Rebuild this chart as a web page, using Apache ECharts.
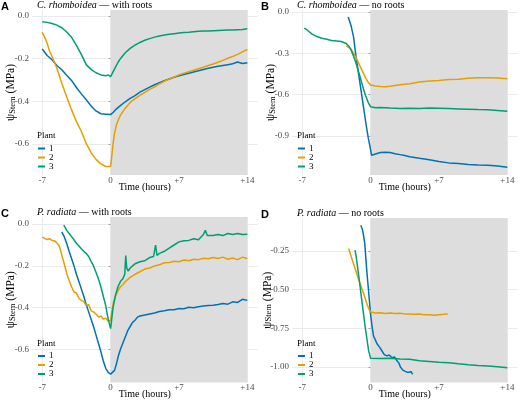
<!DOCTYPE html>
<html>
<head>
<meta charset="utf-8">
<title>Stem water potential</title>
<script src="https://cdn.jsdelivr.net/npm/echarts@6/dist/echarts.min.js"></script>
<style>
  html, body { margin: 0; padding: 0; background: #fff; }
  #chart { width: 520px; height: 401px; }
</style>
</head>
<body>
<div id="chart"></div>
<script>
// plant labels + x ticks
const plants = ['1', '2', '3'];
const hourTicks = [-7, 0, 7, 14];

// A: C. rhomboidea, with roots
const tA1 = [-7, -6.5, -6, -5.5, -5, -4.5, -4, -3.5, -3, -2.5, -2, -1.5, -1, -0.5, 0, 0.3, 0.6, 1, 1.5, 2, 2.5, 3, 3.5, 4, 4.5, 5, 5.5, 6, 6.5, 7, 7.5, 8, 8.5, 9, 9.5, 10, 10.5, 11, 11.5, 12, 12.5, 13, 13.5, 14];
const yA1 = [-0.155, -0.185, -0.205, -0.232, -0.252, -0.278, -0.302, -0.335, -0.365, -0.392, -0.422, -0.445, -0.458, -0.46, -0.462, -0.45, -0.435, -0.42, -0.402, -0.386, -0.373, -0.357, -0.345, -0.333, -0.322, -0.312, -0.303, -0.295, -0.287, -0.28, -0.274, -0.268, -0.262, -0.257, -0.251, -0.245, -0.24, -0.236, -0.232, -0.228, -0.224, -0.216, -0.223, -0.219];
const tA2 = [-7, -6.75, -6.5, -6.25, -6, -5.5, -5, -4.5, -4, -3.5, -3, -2.5, -2, -1.5, -1, -0.5, 0, 0.1, 0.25, 0.4, 0.6, 0.8, 1, 1.5, 2, 2.5, 3, 3.5, 4, 4.5, 5, 5.5, 6, 6.5, 7, 7.5, 8, 8.5, 9, 9.5, 10, 10.5, 11, 11.5, 12, 12.5, 13, 13.5, 14];
const yA2 = [-0.077, -0.1, -0.128, -0.165, -0.19, -0.245, -0.315, -0.378, -0.44, -0.495, -0.54, -0.597, -0.64, -0.672, -0.693, -0.705, -0.705, -0.665, -0.6, -0.55, -0.51, -0.485, -0.466, -0.432, -0.405, -0.387, -0.372, -0.358, -0.344, -0.332, -0.318, -0.306, -0.296, -0.286, -0.276, -0.268, -0.261, -0.254, -0.247, -0.24, -0.232, -0.225, -0.217, -0.208, -0.198, -0.19, -0.18, -0.168, -0.157];
const tA3 = [-7, -6.5, -6, -5.5, -5, -4.5, -4, -3.5, -3, -2.5, -2, -1.5, -1, -0.5, -0.25, 0, 0.25, 0.5, 0.75, 1, 1.5, 2, 2.5, 3, 3.5, 4, 4.5, 5, 5.5, 6, 6.5, 7, 7.5, 8, 8.5, 9, 9.5, 10, 10.5, 11, 11.5, 12, 12.5, 13, 13.5, 14];
const yA3 = [-0.027, -0.03, -0.035, -0.043, -0.055, -0.075, -0.1, -0.138, -0.18, -0.228, -0.25, -0.266, -0.276, -0.28, -0.276, -0.284, -0.262, -0.24, -0.218, -0.2, -0.172, -0.152, -0.137, -0.124, -0.114, -0.106, -0.099, -0.094, -0.089, -0.086, -0.083, -0.08, -0.077, -0.076, -0.074, -0.072, -0.07, -0.07, -0.069, -0.068, -0.067, -0.066, -0.066, -0.064, -0.063, -0.06];

// B: C. rhomboidea, no roots
const tB1 = [-2.3, -2, -1.75, -1.5, -1.25, -1, -0.75, -0.5, -0.25, 0, 0.1, 0.25, 0.5, 1, 1.5, 2, 2.5, 3, 3.5, 4, 5, 6, 7, 8, 9, 10, 11, 12, 13, 14];
const yB1 = [-0.036, -0.1, -0.18, -0.32, -0.44, -0.56, -0.68, -0.8, -0.91, -1.0, -1.04, -1.035, -1.03, -1.02, -1.017, -1.02, -1.028, -1.035, -1.042, -1.05, -1.062, -1.072, -1.085, -1.095, -1.1, -1.107, -1.11, -1.112, -1.118, -1.127];
const tB2 = [-2.5, -2, -1.5, -1, -0.5, -0.25, 0, 0.5, 1, 1.5, 2, 2.5, 3, 4, 5, 6, 7, 8, 9, 10, 11, 12, 13, 14];
const yB2 = [-0.245, -0.27, -0.33, -0.405, -0.48, -0.51, -0.53, -0.537, -0.54, -0.542, -0.538, -0.533, -0.528, -0.52, -0.508, -0.5, -0.496, -0.49, -0.487, -0.48, -0.477, -0.477, -0.479, -0.484];
const tB3 = [-6.8, -6.5, -6, -5.5, -5, -4.5, -4, -3.5, -3, -2.5, -2.2, -2, -1.75, -1.5, -1.25, -1, -0.75, -0.5, -0.25, 0, 0.5, 1, 2, 3, 4, 5, 6, 7, 8, 9, 10, 11, 12, 13, 14];
const yB3 = [-0.117, -0.13, -0.16, -0.178, -0.19, -0.197, -0.206, -0.21, -0.214, -0.228, -0.25, -0.275, -0.32, -0.37, -0.43, -0.49, -0.555, -0.61, -0.655, -0.688, -0.695, -0.693, -0.697, -0.7, -0.698, -0.7, -0.697, -0.699, -0.701, -0.703, -0.705, -0.708, -0.71, -0.714, -0.72];

// C: P. radiata, with roots
const tC1 = [-5, -4.75, -4.5, -4.25, -4, -3.75, -3.5, -3.25, -3, -2.75, -2.5, -2.25, -2, -1.75, -1.5, -1.25, -1, -0.75, -0.5, -0.25, 0, 0.2, 0.4, 0.6, 0.8, 1, 1.25, 1.5, 1.75, 2, 2.25, 2.5, 2.75, 3, 3.5, 4, 4.5, 5, 5.5, 6, 6.5, 7, 7.5, 8, 8.5, 9, 9.5, 10, 10.5, 11, 11.5, 12, 12.5, 13, 13.5, 14];
const yC1 = [-0.037, -0.06, -0.092, -0.13, -0.165, -0.2, -0.24, -0.275, -0.31, -0.345, -0.385, -0.42, -0.455, -0.49, -0.53, -0.57, -0.61, -0.655, -0.69, -0.71, -0.718, -0.715, -0.7, -0.668, -0.63, -0.6, -0.57, -0.54, -0.51, -0.49, -0.47, -0.46, -0.445, -0.44, -0.435, -0.43, -0.425, -0.418, -0.415, -0.41, -0.41, -0.404, -0.405, -0.398, -0.4, -0.395, -0.392, -0.39, -0.388, -0.385, -0.38, -0.383, -0.372, -0.375, -0.36, -0.365];
const tC2 = [-7, -6.75, -6.5, -6.25, -6, -5.75, -5.5, -5.25, -5, -4.75, -4.5, -4.25, -4, -3.75, -3.5, -3.25, -3, -2.75, -2.5, -2.25, -2, -1.75, -1.5, -1.25, -1, -0.75, -0.5, -0.25, 0, 0.15, 0.3, 0.5, 0.75, 1, 1.25, 1.5, 2, 2.5, 3, 3.5, 4, 4.5, 5, 5.5, 6, 6.5, 7, 7.5, 8, 8.5, 9, 9.5, 10, 10.5, 11, 11.5, 12, 12.5, 13, 13.5, 14];
const yC2 = [-0.062, -0.068, -0.074, -0.07, -0.078, -0.08, -0.09, -0.105, -0.148, -0.19, -0.235, -0.27, -0.3, -0.325, -0.33, -0.355, -0.365, -0.37, -0.39, -0.385, -0.415, -0.42, -0.43, -0.445, -0.44, -0.455, -0.45, -0.465, -0.46, -0.41, -0.375, -0.345, -0.32, -0.3, -0.29, -0.275, -0.255, -0.24, -0.228, -0.215, -0.21, -0.2, -0.195, -0.185, -0.184, -0.178, -0.18, -0.172, -0.175, -0.168, -0.17, -0.163, -0.166, -0.16, -0.165, -0.158, -0.168, -0.162, -0.17, -0.158, -0.165];
const tC3 = [-4.8, -4.6, -4.5, -4.25, -4, -3.75, -3.5, -3.25, -3, -2.75, -2.5, -2.25, -2, -1.75, -1.5, -1.25, -1, -0.75, -0.5, -0.25, 0, 0.1, 0.25, 0.5, 0.75, 1, 1.25, 1.45, 1.55, 1.65, 1.8, 2, 2.25, 2.5, 3, 3.5, 4, 4.4, 4.6, 4.75, 5, 5.5, 6, 6.5, 7, 7.5, 8, 8.5, 9, 9.5, 9.7, 9.9, 10, 10.5, 11, 11.5, 12, 12.5, 13, 13.5, 14];
const yC3 = [-0.005, -0.02, -0.03, -0.045, -0.06, -0.075, -0.092, -0.105, -0.118, -0.13, -0.14, -0.155, -0.178, -0.2, -0.23, -0.262, -0.3, -0.345, -0.39, -0.455, -0.5, -0.46, -0.4, -0.34, -0.3, -0.275, -0.262, -0.24, -0.15, -0.21, -0.225, -0.21, -0.2, -0.19, -0.18, -0.175, -0.16, -0.155, -0.1, -0.15, -0.14, -0.13, -0.115, -0.1, -0.085, -0.08, -0.078, -0.07, -0.075, -0.05, -0.03, -0.055, -0.06, -0.055, -0.05, -0.055, -0.045, -0.05, -0.045, -0.05, -0.048];

// D: P. radiata, no roots
const tD1 = [-1.0, -0.85, -0.75, -0.6, -0.5, -0.37, -0.25, -0.1, 0, 0.15, 0.3, 0.45, 0.65, 0.9, 1.15, 1.4, 1.65, 1.9, 2.2, 2.45, 2.7, 2.9, 3.05, 3.3, 3.55, 3.8, 4.0, 4.15, 4.3];
const yD1 = [-0.085, -0.11, -0.14, -0.2, -0.29, -0.397, -0.48, -0.59, -0.66, -0.74, -0.8, -0.82, -0.85, -0.87, -0.895, -0.92, -0.928, -0.922, -0.94, -0.935, -0.96, -0.975, -1.0, -1.02, -1.028, -1.035, -1.045, -1.03, -1.048];
const tD2 = [-2.25, -1.7, -1.2, -0.7, -0.37, -0.15, 0, 0.5, 1, 1.5, 2, 2.5, 3, 3.5, 4, 4.5, 5, 5.5, 6, 6.5, 7, 7.5, 7.9];
const yD2 = [-0.235, -0.343, -0.44, -0.528, -0.593, -0.63, -0.645, -0.652, -0.65, -0.654, -0.652, -0.655, -0.653, -0.657, -0.658, -0.66, -0.658, -0.662, -0.663, -0.666, -0.662, -0.66, -0.658];
const tD3 = [-1.6, -1.5, -1.2, -0.9, -0.55, -0.2, 0, 1, 2, 3, 4, 5, 6, 7, 8, 9, 10, 11, 12, 13, 14];
const yD3 = [-0.246, -0.278, -0.419, -0.571, -0.745, -0.896, -0.944, -0.945, -0.944, -0.948, -0.95, -0.96, -0.965, -0.97, -0.972, -0.979, -0.985, -0.99, -0.993, -0.998, -1.005];

const colors = ['#0072B2', '#E69F00', '#009E73'];
const serif = 'Liberation Serif, Times New Roman, serif';

const panels = [
  { letter: 'A', species: 'C. rhomboidea', cond: 'with roots', data: [[tA1, yA1], [tA2, yA2], [tA3, yA3]],
    grid: { left: 32, top: 10, width: 225.6, height: 165 }, yMin: -0.745, yMax: 0.028, step: 0.2, dec: 1, nameGap: 15 },
  { letter: 'B', species: 'C. rhomboidea', cond: 'no roots', data: [[tB1, yB1], [tB2, yB2], [tB3, yB3]],
    grid: { left: 292, top: 10, width: 225.6, height: 165 }, yMin: -1.183, yMax: 0.015, step: 0.3, dec: 1, nameGap: 15 },
  { letter: 'C', species: 'P. radiata', cond: 'with roots', data: [[tC1, yC1], [tC2, yC2], [tC3, yC3]],
    grid: { left: 32, top: 217, width: 225.6, height: 165.5 }, yMin: -0.758, yMax: 0.034, step: 0.2, dec: 1, nameGap: 15 },
  { letter: 'D', species: 'P. radiata', cond: 'no roots', data: [[tD1, yD1], [tD2, yD2], [tD3, yD3]],
    grid: { left: 292, top: 218, width: 225.6, height: 164.5 }, yMin: -1.10, yMax: -0.038, step: 0.25, dec: 2, nameGap: 18.5 }
];

function pairs(t, y) {
  return t.map((h, i) => [h, y[i]]);
}

function hourLabel(v) {
  if (hourTicks.indexOf(v) < 0) return '';
  return v > 0 ? '+' + v : String(v);
}

const option = {
  animation: false,
  backgroundColor: '#fff',
  title: [],
  legend: [],
  grid: [],
  xAxis: [],
  yAxis: [],
  series: []
};

panels.forEach((p, k) => {
  const g = p.grid;
  option.grid.push(g);

  option.title.push({
    text: p.letter, left: g.left - 31, top: g.top - 9, padding: 0,
    textStyle: { fontFamily: 'Liberation Sans, Arial, sans-serif', fontWeight: 'bold', fontSize: 11, color: '#000', lineHeight: 11 }
  });
  option.title.push({
    text: '{i|' + p.species + '}{n| \u2014 ' + p.cond + '}', left: g.left + 5, top: g.top - 10, padding: 0,
    textStyle: {
      fontWeight: 'normal',
      rich: {
        i: { fontFamily: serif, fontStyle: 'italic', fontWeight: 'normal', fontSize: 10, color: '#000', lineHeight: 11 },
        n: { fontFamily: serif, fontWeight: 'normal', fontSize: 10, color: '#000', lineHeight: 11 }
      }
    }
  });
  option.title.push({
    text: 'Plant', left: g.left + 5, top: g.top + g.height - 44, padding: 0,
    textStyle: { fontFamily: serif, fontSize: 9, fontWeight: 'normal', color: '#000', lineHeight: 10 }
  });

  option.legend.push({
    data: plants, orient: 'vertical', left: g.left + 6, top: g.top + g.height - 31,
    padding: 0, itemGap: 0, itemWidth: 7, itemHeight: 2, icon: 'rect', selectedMode: false,
    textStyle: { fontFamily: serif, fontSize: 9, color: '#000', lineHeight: 9, padding: [0, 0, 0, -1] }
  });

  option.xAxis.push({
    type: 'value', gridIndex: k, min: -8.05, max: 15.05, minInterval: 7, maxInterval: 7,
    name: 'Time (hours)', nameLocation: 'middle', nameGap: 7, nameMoveOverlap: false,
    nameTextStyle: { fontFamily: serif, fontSize: 10, color: '#000', lineHeight: 10 },
    axisLine: { show: false }, axisTick: { show: false },
    axisLabel: { margin: 1, fontFamily: serif, fontSize: 9, color: '#4d4d4d', formatter: hourLabel, showMinLabel: false, showMaxLabel: false },
    splitLine: { show: true, showMinLine: false, showMaxLine: false, lineStyle: { color: '#ebebeb', width: 1 } }
  });

  option.yAxis.push({
    type: 'value', gridIndex: k, min: p.yMin, max: p.yMax, minInterval: p.step, maxInterval: p.step,
    name: '{a|\u03c8}{b|Stem}{c| (MPa)}', nameLocation: 'middle', nameRotate: 90, nameGap: p.nameGap, nameMoveOverlap: false,
    nameTextStyle: {
      rich: {
        a: { fontFamily: serif, fontSize: 11.5, color: '#000', lineHeight: 12, verticalAlign: 'middle' },
        b: { fontFamily: serif, fontSize: 8.5, color: '#000', lineHeight: 8, verticalAlign: 'bottom' },
        c: { fontFamily: serif, fontSize: 11.5, color: '#000', lineHeight: 12, verticalAlign: 'middle' }
      }
    },
    axisLine: { show: false },
    axisTick: { show: true, length: 2, lineStyle: { color: '#888', width: 0.8 } },
    axisLabel: { margin: 3, fontFamily: serif, fontSize: 9, color: '#4d4d4d', showMinLabel: false, showMaxLabel: false,
      formatter: v => v.toFixed(p.dec) },
    splitLine: { show: true, showMinLine: false, showMaxLine: false, lineStyle: { color: '#ebebeb', width: 1 } }
  });

  // shaded period (0 to +14 h), full panel height
  option.series.push({
    type: 'line', xAxisIndex: k, yAxisIndex: k, data: [], silent: true, z: 1,
    markArea: { silent: true, itemStyle: { color: '#dddddd' }, data: [[{ xAxis: 0 }, { xAxis: 14 }]] }
  });

  p.data.forEach((d, j) => {
    option.series.push({
      name: plants[j], type: 'line', xAxisIndex: k, yAxisIndex: k, z: 3,
      data: pairs(d[0], d[1]), showSymbol: false, symbol: 'none',
      color: colors[j], lineStyle: { color: colors[j], width: 1.5 }
    });
  });
});

const chart = echarts.init(document.getElementById('chart'));
chart.setOption(option);
window.addEventListener('resize', () => chart.resize());
</script>
</body>
</html>
